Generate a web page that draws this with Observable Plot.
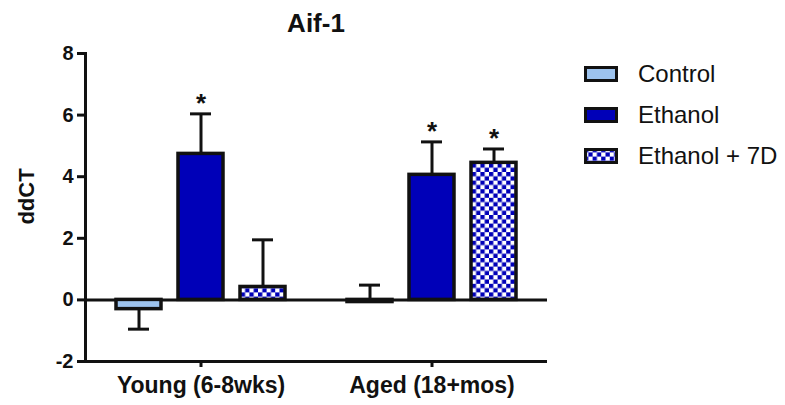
<!DOCTYPE html>
<html>
<head>
<meta charset="utf-8">
<script src="https://cdn.jsdelivr.net/npm/d3@7"></script>
<script src="https://cdn.jsdelivr.net/npm/@observablehq/plot@0.6"></script>
<style>
  body { margin: 0; background: #fff; font-family: "Liberation Sans", Arial, sans-serif; }
  #wrap { position: relative; width: 785px; height: 405px; overflow: hidden; }
  #title { position: absolute; left: 216px; width: 200px; top: 8px; text-align: center; font-size: 26px; font-weight: bold; color: #111; }
  #legend { position: absolute; left: 584px; top: 53px; }
  .row { display: flex; align-items: center; height: 41px; }
  .row svg { margin-right: 20px; }
  .row span { font-size: 24px; color: #111; }
</style>
</head>
<body>
<div id="wrap"><div id="title">Aif-1</div><div id="legend"></div></div>
<script>
// ---- data ----
const groups = ["Young (6-8wks)", "Aged (18+mos)"];
const treatments = ["Control", "Ethanol", "Ethanol + 7D"];
const fills = ["#9DC3EE", "#0000B8", "url(#checker)"];
const meansYoung = [-0.30, 4.74, 0.42];
const meansAged = [-0.07, 4.06, 4.45];
const errYoung = [0.65, 1.30, 1.53];
const errAged = [0.55, 1.07, 0.45];
const errDirYoung = [-1, 1, 1];
const errDirAged = [1, 1, 1];
const sigYoung = ["", "*", ""];
const sigAged = ["", "*", "*"];
const yTicks = [-2, 0, 2, 4, 6, 8];
const yLabel = "ddCT";

const data = [];
[[meansYoung, errYoung, errDirYoung, sigYoung], [meansAged, errAged, errDirAged, sigAged]].forEach(([m, e, d, s], gi) => {
  treatments.forEach((t, i) => {
    data.push({group: groups[gi], treatment: t, mean: m[i], end: m[i] + d[i] * e[i], sig: s[i]});
  });
});

const font = '"Liberation Sans", Arial, sans-serif';
const chart = Plot.plot({
  width: 785, height: 405,
  marginLeft: 85, marginRight: 238, marginTop: 53, marginBottom: 44,
  style: {fontFamily: font, fontWeight: "bold", color: "#111", background: "#fff", overflow: "visible"},
  fx: {domain: groups, padding: 0, label: null},
  x: {domain: treatments, paddingInner: 0.27, paddingOuter: 0.49, axis: null},
  y: {domain: [-2, 8]},
  color: {domain: treatments, range: fills},
  marks: [
    Plot.ruleY([-2], {stroke: "#111", strokeWidth: 3}),
    Plot.ruleY([0], {stroke: "#111", strokeWidth: 3}),
    Plot.frame({anchor: "left", facetAnchor: "left", stroke: "#111", strokeWidth: 3}),
    Plot.axisY({ticks: yTicks, tickFormat: d => String(d), tickSize: 8, tickPadding: 4, strokeWidth: 3, fontSize: 20, label: null, stroke: "#111"}),
    Plot.text([yLabel], {frameAnchor: "left", facetAnchor: "left", textAnchor: "middle", rotate: -90, dx: -59, dy: -11, fontSize: 22, fontWeight: "bold", fill: "#111"}),
    Plot.axisFx({anchor: "bottom", tickSize: 6, tickPadding: 9, strokeWidth: 3, fontSize: 23, label: null, stroke: "#111"}),
    Plot.ruleX(data, {fx: "group", x: "treatment", y1: "mean", y2: "end", stroke: "#111", strokeWidth: 3}),
    Plot.tickY(data, {fx: "group", x: "treatment", y: "end", insetLeft: 12, insetRight: 12, stroke: "#111", strokeWidth: 3}),
    Plot.barY(data, {fx: "group", x: "treatment", y: "mean", fill: "treatment", stroke: "#111", strokeWidth: 3.5}),
    Plot.text(data, {fx: "group", x: "treatment", y: "end", text: "sig", dy: -2, lineAnchor: "bottom", fontSize: 26, fontWeight: "bold", fill: "#111"})
  ]
});

const svgNS = "http://www.w3.org/2000/svg";
const svg = chart.tagName.toLowerCase() === "svg" ? chart : chart.querySelector("svg");
const defs = document.createElementNS(svgNS, "defs");
defs.innerHTML = '<pattern id="checker" width="8.6" height="8.6" patternUnits="userSpaceOnUse"><rect width="8.6" height="8.6" fill="#fff"/><rect width="4.3" height="4.3" fill="#0000B8"/><rect x="4.3" y="4.3" width="4.3" height="4.3" fill="#0000B8"/></pattern>';
svg.insertBefore(defs, svg.firstChild);
chart.style.position = "absolute";
chart.style.left = "0";
chart.style.top = "0";
document.getElementById("wrap").prepend(chart);

// legend
const legend = document.getElementById("legend");
treatments.forEach((t, i) => {
  const row = document.createElement("div");
  row.className = "row";
  row.innerHTML = `<svg width="34" height="16"><rect x="1.5" y="1.5" width="31" height="13" fill="${fills[i]}" stroke="#111" stroke-width="3"/></svg><span>${t}</span>`;
  legend.appendChild(row);
});
</script>
</body>
</html>
